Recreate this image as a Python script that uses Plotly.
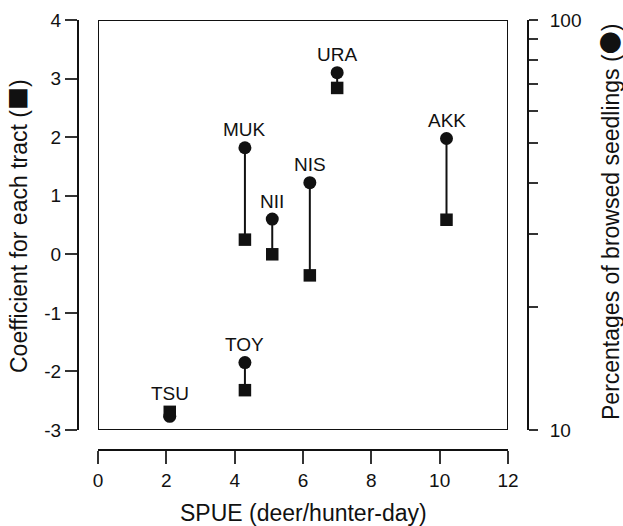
import math
import plotly.graph_objects as go

# ---- data ----
sites = ["TSU", "TOY", "MUK", "NII", "NIS", "URA", "AKK"]
spue = [2.1, 4.3, 4.3, 5.1, 6.2, 7.0, 10.2]
coef = [-2.69, -2.32, 0.25, 0.0, -0.36, 2.84, 0.59]
browsed_pct = [10.8, 14.6, 48.8, 32.7, 40.1, 74.4, 51.4]

x_ticks = [0, 2, 4, 6, 8, 10, 12]
y_ticks = [-3, -2, -1, 0, 1, 2, 3, 4]
y_ticktext = ["-3", "-2", "-1", "0", "1", "2", "3", "4"]
y2_ticks = [10, 20, 30, 40, 50, 60, 70, 80, 90, 100]
y2_ticktext = ["10", "", "", "", "", "", "", "", "", "100"]

X_RANGE = [0, 12]
Y_RANGE = [-3, 4]
P_RANGE = [10, 100]


def pct_to_coef(p):
    lo, hi = math.log10(P_RANGE[0]), math.log10(P_RANGE[1])
    f = (math.log10(p) - lo) / (hi - lo)
    return Y_RANGE[0] + f * (Y_RANGE[1] - Y_RANGE[0])


INK = "#111111"
FONT = "Liberation Sans, Arial, sans-serif"

fig = go.Figure()

# connectors
cx, cy = [], []
for xv, c, p in zip(spue, coef, browsed_pct):
    cx += [xv, xv, None]
    cy += [c, pct_to_coef(p), None]
fig.add_trace(go.Scatter(x=cx, y=cy, mode="lines", line=dict(color=INK, width=2),
                         hoverinfo="skip", showlegend=False, yaxis="y"))

# squares: coefficient
fig.add_trace(go.Scatter(x=spue, y=coef, mode="markers",
                         marker=dict(symbol="square", size=12.5, color=INK),
                         showlegend=False, yaxis="y"))

# circles: browsed percentage
fig.add_trace(go.Scatter(x=spue, y=browsed_pct, mode="markers",
                         marker=dict(symbol="circle", size=13, color=INK),
                         showlegend=False, yaxis="y2"))

annotations = []
for s, xv, c, p in zip(sites, spue, coef, browsed_pct):
    top = max(c, pct_to_coef(p))
    annotations.append(dict(x=xv, y=top, xref="x", yref="y", text=s, showarrow=False,
                            yanchor="middle", yshift=18,
                            font=dict(family=FONT, size=19, color=INK)))

SQ = "<span style=\"font-family:'Noto Sans CJK JP'\">■</span>"
CI = "<span style=\"font-family:'Noto Sans CJK JP'\">●</span>"

# axis titles
annotations.append(dict(x=0.5, y=(450 - 513) / 430, xref="paper", yref="paper",
                        text="SPUE (deer/hunter-day)", showarrow=False,
                        xanchor="center", yanchor="middle",
                        font=dict(family=FONT, size=23, color=INK)))
annotations.append(dict(x=(17 - 78) / 450, y=(450 - 226) / 430, xref="paper", yref="paper",
                        text="Coefficient for each tract (" + SQ + ")", showarrow=False, textangle=-90,
                        xanchor="center", yanchor="middle",
                        font=dict(family=FONT, size=23, color=INK)))
annotations.append(dict(x=(609 - 78) / 450, y=(450 - 222) / 430, xref="paper", yref="paper",
                        text="Percentages of browsed seedlings (" + CI + ")", showarrow=False,
                        textangle=-90, xanchor="center", yanchor="middle",
                        font=dict(family=FONT, size=23, color=INK)))

axis_common = dict(showgrid=False, zeroline=False, showline=True, linecolor=INK, linewidth=2,
                   ticks="outside", tickcolor="#333333", tickwidth=1.5,
                   tickfont=dict(family=FONT, size=19, color=INK), automargin=False)

fig.update_layout(
    width=623, height=526,
    margin=dict(l=78, r=95, t=20, b=76),
    paper_bgcolor="white", plot_bgcolor="white",
    showlegend=False,
    xaxis=dict(domain=[20 / 450, 430 / 450], range=X_RANGE, tickvals=x_ticks,
               anchor="free", position=0, ticklen=13, **axis_common),
    yaxis=dict(domain=[20 / 430, 1], range=Y_RANGE, tickvals=y_ticks, ticktext=y_ticktext,
               anchor="free", position=0, ticklen=12, **axis_common),
    yaxis2=dict(domain=[20 / 430, 1], type="log", range=[math.log10(P_RANGE[0]), math.log10(P_RANGE[1])],
                tickvals=y2_ticks, ticktext=y2_ticktext, overlaying="y", side="right",
                anchor="free", position=1, ticklen=9, ticklabelstandoff=8, **axis_common),
    annotations=annotations,
    shapes=[dict(type="rect", xref="x", yref="y", x0=X_RANGE[0], x1=X_RANGE[1],
                 y0=Y_RANGE[0], y1=Y_RANGE[1], line=dict(color=INK, width=2), layer="above")],
)

fig.write_html("out.html", config={"displayModeBar": False},
               post_script="document.body.style.margin='0';document.body.style.overflow='hidden';")
